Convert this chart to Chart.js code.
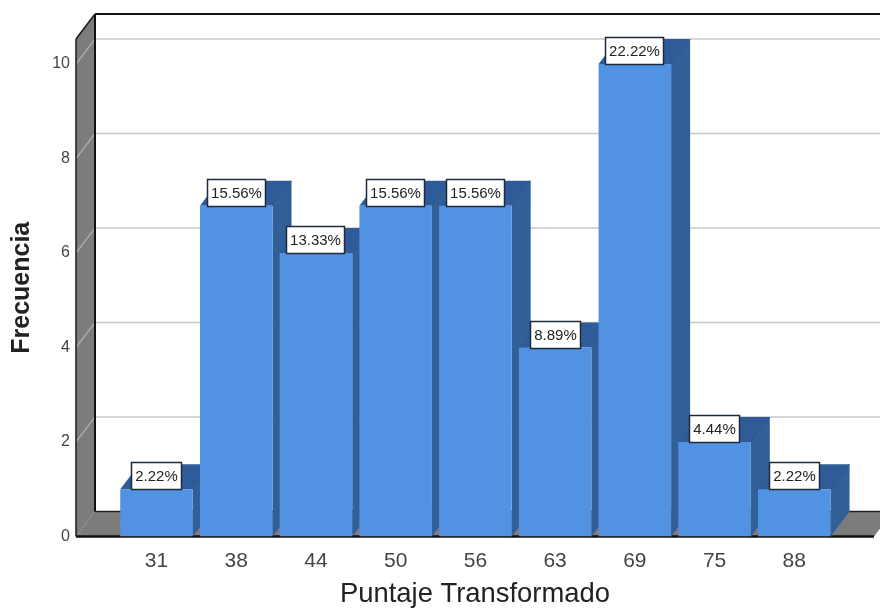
<!DOCTYPE html>
<html>
<head>
<meta charset="utf-8">
<title>Puntaje Transformado</title>
<script src="https://cdn.jsdelivr.net/npm/chart.js@4/dist/chart.umd.js"></script>
<style>
  html, body { margin: 0; padding: 0; background: #fff; }
  canvas { display: block; }
</style>
</head>
<body>
<canvas id="chart" width="880" height="608"></canvas>
<script>
const categories = ['31', '38', '44', '50', '56', '63', '69', '75', '88'];
const frecuencia = [1, 7, 6, 7, 7, 4, 10, 2, 1];
const porcentajes = ['2.22%', '15.56%', '13.33%', '15.56%', '15.56%', '8.89%', '22.22%', '4.44%', '2.22%'];
const yTicks = [0, 2, 4, 6, 8, 10];

// depth of the fake 3D box, in pixels
const DX = 19;
const DY = -25;

function poly(ctx, pts, fill) {
  ctx.beginPath();
  pts.forEach((p, i) => (i ? ctx.lineTo(p[0], p[1]) : ctx.moveTo(p[0], p[1])));
  ctx.closePath();
  ctx.fillStyle = fill;
  ctx.fill();
}

function line(ctx, x1, y1, x2, y2, color, lw) {
  ctx.beginPath();
  ctx.moveTo(x1, y1);
  ctx.lineTo(x2, y2);
  ctx.strokeStyle = color;
  ctx.lineWidth = lw;
  ctx.stroke();
}

const boxPlugin = {
  id: 'box3d',
  beforeDatasetsDraw(chart) {
    const { ctx, chartArea: a, scales } = chart;
    const yScale = scales.y;
    ctx.save();

    // left wall and floor
    poly(ctx, [[a.left, a.top], [a.left + DX, a.top + DY], [a.left + DX, a.bottom + DY], [a.left, a.bottom]], '#7c7c7c');
    poly(ctx, [[a.left, a.bottom], [a.left + DX, a.bottom + DY], [a.right + DX, a.bottom + DY], [a.right, a.bottom]], '#7c7c7c');

    // grid lines on back wall and their diagonal on the left wall
    yTicks.slice(1).forEach(v => {
      const y = yScale.getPixelForValue(v);
      line(ctx, a.left, y, a.left + DX, y + DY, '#a8a8a8', 1.5);
      line(ctx, a.left + DX, y + DY, chart.width, y + DY, '#c8c8c8', 1.5);
    });

    // box outline
    line(ctx, a.left, a.top, a.left, a.bottom, '#1a1a1a', 1.5);
    line(ctx, a.left, a.top, a.left + DX, a.top + DY, '#1a1a1a', 1.5);
    line(ctx, a.left + DX, a.top + DY, a.left + DX, a.bottom + DY, '#111', 2);
    line(ctx, a.left + DX, a.top + DY, chart.width, a.top + DY, '#111', 2);
    line(ctx, a.left + DX, a.bottom + DY, a.right + DX, a.bottom + DY, '#222', 1.5);
    line(ctx, a.left, a.bottom, a.right, a.bottom, '#111', 2.5);

    // bar top and side faces, left to right
    chart.getDatasetMeta(0).data.forEach(bar => {
      const l = bar.x - bar.width / 2;
      const r = bar.x + bar.width / 2;
      poly(ctx, [[l, bar.y], [l + DX, bar.y + DY], [r + DX, bar.y + DY], [r, bar.y]], '#2f5c98');
      poly(ctx, [[r, bar.y], [r + DX, bar.y + DY], [r + DX, bar.base + DY], [r, bar.base]], '#315f98');
      line(ctx, r, bar.y, r + DX, bar.y + DY, '#294f82', 1);
    });
    ctx.restore();
  },
  afterDatasetsDraw(chart) {
    const { ctx } = chart;
    ctx.save();
    ctx.font = '15px "Liberation Sans"';
    ctx.textAlign = 'center';
    ctx.textBaseline = 'middle';
    chart.getDatasetMeta(0).data.forEach((bar, i) => {
      const text = porcentajes[i];
      const w = Math.round(ctx.measureText(text).width) + 7;
      const h = 27;
      const x = Math.round(bar.x - 0.5 - w / 2) + 0.5;
      const y = Math.round(bar.y - h) + 0.5;
      ctx.fillStyle = '#fff';
      ctx.fillRect(x, y, w, h);
      ctx.strokeStyle = '#1c2a3a';
      ctx.lineWidth = 1.5;
      ctx.strokeRect(x, y, w, h);
      ctx.fillStyle = '#222';
      ctx.fillText(text, x + w / 2, y + h / 2 + 1);
    });
    ctx.restore();
  }
};

new Chart(document.getElementById('chart'), {
  type: 'bar',
  data: {
    datasets: [{
      data: frecuencia.map((v, i) => ({ x: i, y: v })),
      backgroundColor: '#5192e3',
      borderColor: '#27476f',
      borderWidth: { bottom: 2, left: 0, right: 0, top: 0 },
      barPercentage: 0.91,
      categoryPercentage: 1
    }]
  },
  plugins: [boxPlugin],
  options: {
    responsive: false,
    animation: false,
    layout: { padding: { top: 39, right: 6, left: 0, bottom: 0 } },
    plugins: { legend: { display: false }, tooltip: { enabled: false } },
    scales: {
      x: {
        type: 'linear',
        offset: false,
        min: -1.01,
        max: 9,
        afterBuildTicks(scale) { scale.ticks = categories.map((c, i) => ({ value: i })); },
        afterFit(scale) { scale.height = 71.5; },
        grid: { display: false, drawTicks: false },
        border: { display: false },
        ticks: {
          autoSkip: false,
          maxRotation: 0,
          padding: 12,
          color: '#444',
          font: { family: '"Liberation Sans"', size: 21 },
          callback: value => categories[value]
        },
        title: {
          display: true,
          text: 'Puntaje Transformado',
          color: '#222',
          padding: { top: 0, bottom: -3 },
          font: { family: '"Liberation Sans"', size: 27.4 }
        }
      },
      y: {
        min: 0,
        max: 10.53,
        afterBuildTicks(scale) { scale.ticks = yTicks.map(value => ({ value })); },
        afterFit(scale) { scale.width = 76; },
        grid: { display: false, drawTicks: false },
        border: { display: false },
        ticks: {
          padding: 6,
          color: '#444',
          font: { family: '"Liberation Sans"', size: 16 }
        },
        title: {
          display: true,
          text: 'Frecuencia',
          color: '#222',
          padding: { top: 7, bottom: 0 },
          font: { family: '"Liberation Sans"', size: 25, weight: 'bold' }
        }
      }
    }
  }
});
</script>
</body>
</html>
